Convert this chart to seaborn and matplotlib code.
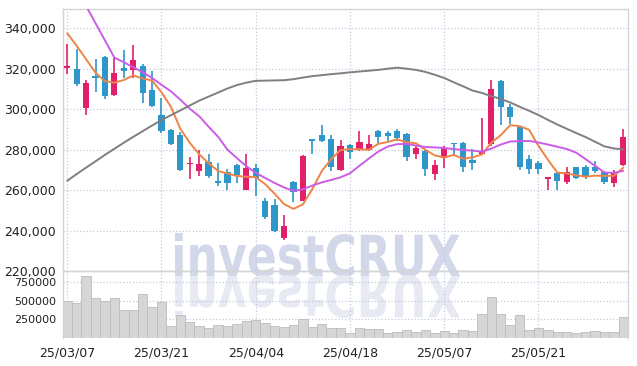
import matplotlib
matplotlib.use("Agg")
import matplotlib.pyplot as plt
import seaborn as sns
import pandas as pd
import numpy as np
from matplotlib.textpath import TextPath
from matplotlib.patches import PathPatch
from matplotlib.font_manager import FontProperties
from matplotlib.transforms import Affine2D
from matplotlib.ticker import FuncFormatter, FixedLocator

# trading days (KRX holidays removed)
holidays = ['2025-05-01', '2025-05-05', '2025-05-06', '2025-06-03']
dates = pd.bdate_range('2025-03-07', '2025-06-04')
dates = dates[~dates.isin(pd.to_datetime(holidays))]

opens = [320500, 320000, 300500, 316500, 326000, 307000, 320500, 319500, 321500, 309500,
         297000, 289500, 287000, 272700, 269500, 274000, 264500, 269000, 272500, 260000,
         271000, 254500, 252500, 236500, 264000, 254800, 285000, 287000, 285000, 270000,
         282500, 279700, 279800, 289300, 288000, 289000, 287500, 277800, 279500, 268000,
         276000, 283300, 283500, 275000, 278000, 282700, 314000, 301000, 291200, 275500,
         273600, 265700, 268200, 264200, 271200, 271200, 271500, 269000, 263700, 272300]
closes = [321500, 312500, 313000, 315500, 306500, 318000, 319000, 324300, 308000, 301500,
          289000, 283000, 270000, 273500, 273000, 267000, 263700, 263700, 267500, 271000,
          266000, 246500, 240000, 242000, 259000, 277000, 284300, 284300, 271500, 282000,
          279000, 284000, 283000, 286300, 286500, 285700, 276500, 280700, 270300, 272500,
          280700, 282700, 271500, 273600, 279500, 310000, 301000, 296300, 271200, 270600,
          270300, 266500, 264600, 269000, 266200, 266700, 269200, 264000, 269000, 286300]
highs = [332000, 329500, 314500, 325000, 326500, 325500, 329000, 331500, 322500, 319000,
         305500, 290000, 288500, 276500, 280000, 278000, 273500, 270500, 273000, 278000,
         273000, 256000, 255500, 247500, 264500, 277500, 285200, 292000, 287000, 284700,
         283000, 289000, 287300, 289700, 289000, 290200, 288000, 282000, 280000, 275000,
         282000, 283500, 284000, 280200, 295500, 314300, 314500, 302500, 291500, 277500,
         274500, 266700, 268500, 271200, 271500, 272500, 274400, 269500, 270000, 290000]
lows = [317500, 311500, 297000, 308500, 305000, 306500, 315500, 315500, 303000, 301000,
        288000, 282500, 269500, 265500, 267000, 266000, 262000, 260000, 263500, 260000,
        257000, 245500, 239500, 235500, 254000, 254500, 278000, 284000, 269500, 269500,
        275300, 279500, 279500, 283500, 284500, 284500, 274500, 275300, 267000, 265000,
        271000, 277000, 269000, 270000, 277500, 282000, 292000, 292600, 270000, 268000,
        268000, 260000, 260000, 263000, 265400, 265700, 268500, 263000, 261500, 272000]
volumes = [496000, 464000, 829000, 533000, 501000, 542000, 382000, 382000, 587000, 419000,
           478000, 160000, 314000, 214000, 160000, 132000, 178000, 160000, 191000, 223000,
           246000, 205000, 160000, 146000, 178000, 260000, 146000, 191000, 137000, 137000,
           68000, 137000, 119000, 119000, 68000, 86000, 109000, 86000, 109000, 68000,
           96000, 68000, 109000, 100000, 328000, 556000, 328000, 178000, 305000, 109000,
           132000, 109000, 82000, 82000, 64000, 82000, 96000, 82000, 82000, 283000]
# closes of the 4 sessions before the window (for the 5-day average)
prior_closes = [343500, 346000, 349000, 327500]
ma20 = [368000, 359500, 351000, 342500, 334000, 325500, 323200, 320700, 318300, 315400,
        312000, 308800, 304700, 300200, 296500, 291300, 286400, 280000, 275800, 271800,
        268500, 266000, 263500, 261300, 259600, 260400, 262200, 263800, 265000, 266300,
        268300, 272000, 275600, 279000, 281500, 282700, 282800, 282000, 281300, 281100,
        280800, 280300, 279800, 279500, 279000, 280500, 282500, 284000, 284200, 284300,
        283500, 282500, 281400, 280300, 278500, 275300, 272000, 268700, 268500, 269500]
ma60 = [264600, 267900, 271100, 274200, 277400, 280400, 283400, 286300, 289100, 291900,
        294600, 297000, 299400, 301800, 304200, 306200, 308200, 310200, 311900, 313100,
        314000, 314100, 314200, 314300, 314800, 315600, 316300, 316800, 317300, 317700,
        318200, 318600, 319000, 319400, 320000, 320500, 320000, 319400, 318400, 317000,
        315400, 313300, 311300, 309200, 308000, 306400, 305000, 303300, 301200, 299200,
        297100, 294700, 292400, 290300, 288200, 286200, 283900, 281600, 280600, 280100]

df = pd.DataFrame({'open': opens, 'high': highs, 'low': lows, 'close': closes,
                   'volume': volumes, 'ma20': ma20, 'ma60': ma60}, index=dates)
df['idx'] = np.arange(len(df))
all_closes = pd.Series(prior_closes + closes)
df['ma5'] = all_closes.rolling(5).mean().iloc[len(prior_closes):].values

UP = '#e2206a'
DOWN = '#2e96c9'
GRID = '#c5c9dd'
SPINE = '#d4d4d4'

sns.set_theme(style="whitegrid")
plt.rcParams['font.family'] = ['DejaVu Sans']

fig = plt.figure(figsize=(6.37, 3.66), dpi=100)
fig.patch.set_facecolor('white')
ax = fig.add_axes([63 / 637, 1 - 271 / 366, 565 / 637, 262 / 366])
axv = fig.add_axes([63 / 637, 1 - 338 / 366, 565 / 637, 67 / 366], sharex=ax)

# watermark with reflection, behind everything
fp = FontProperties(family='DejaVu Sans', weight='bold')
tp = TextPath((0, 0), 'investCRUX', size=50, prop=fp)
ext = tp.get_extents()
x0, x1 = 175, 460
ybase, ytop = 366 - 276, 366 - 233
sx = (x1 - x0) / ext.width
sy = (ytop - ybase) / ext.y1
tr_main = Affine2D().translate(-ext.x0, 0).scale(sx, sy).translate(x0, ybase)
tr_refl = Affine2D().translate(-ext.x0, 0).scale(sx, -sy).translate(x0, ybase)
fig.add_artist(PathPatch(tp, transform=tr_main, facecolor='#d2d8ea',
                         edgecolor='none', zorder=-2))
fig.add_artist(PathPatch(tp, transform=tr_refl, facecolor='#e7eaf2',
                         edgecolor='none', zorder=-2))

for a in (ax, axv):
    a.set_facecolor('none')
    a.grid(True, linestyle=':', color=GRID, linewidth=0.9)
    for s in a.spines.values():
        s.set_color(SPINE)
        s.set_linewidth(1.0)
    a.tick_params(length=0, colors='#222222')

# candles
colors = [UP if c >= o else DOWN for o, c in zip(df['open'], df['close'])]
body_lo = np.minimum(df['open'], df['close'])
body_h = np.maximum(np.abs(df['close'] - df['open']), 700)
ax.vlines(df['idx'], df['low'], df['high'], colors=colors, linewidth=1.2, zorder=2)
ax.bar(df['idx'], body_h, bottom=body_lo, width=0.66, color=colors,
       linewidth=0, zorder=3)

# moving averages
sns.lineplot(x=df['idx'], y=df['ma5'], ax=ax, color='#ee8448', linewidth=1.4, zorder=4)
sns.lineplot(x=df['idx'], y=df['ma20'], ax=ax, color='#cc5ce6', linewidth=1.4, zorder=4)
sns.lineplot(x=df['idx'], y=df['ma60'], ax=ax, color='#7f7f7f', linewidth=1.4, zorder=4)

ax.set_xlim(-0.45, 59.5)
ax.set_ylim(220000, 349500)
ax.yaxis.set_major_locator(FixedLocator(list(range(220000, 340001, 20000))))
ax.yaxis.set_major_formatter(FuncFormatter(lambda v, p: f'{v:,.0f}'))
ax.tick_params(axis='y', labelsize=9, pad=5)
ax.tick_params(axis='x', labelbottom=False)
ax.set_xlabel('')
ax.set_ylabel('')

# volume
axv.bar(df['idx'], df['volume'], width=1.0, color='#d6d6d6',
        edgecolor='#bcbcbc', linewidth=0.6, zorder=2)
axv.set_ylim(0, 900000)
axv.yaxis.set_major_locator(FixedLocator([250000, 500000, 750000]))
axv.yaxis.set_major_formatter(FuncFormatter(lambda v, p: f'{v:.0f}'))
axv.tick_params(axis='y', labelsize=8, pad=5)
tick_pos = list(range(0, len(df), 10))
axv.xaxis.set_major_locator(FixedLocator(tick_pos))
axv.set_xticklabels([df.index[i].strftime('%y/%m/%d') for i in tick_pos])
axv.tick_params(axis='x', labelsize=9, pad=6)
axv.spines['bottom'].set_visible(False)
axv.set_xlabel('')
axv.set_ylabel('')

fig.savefig('out.png', dpi=100, facecolor='white')
